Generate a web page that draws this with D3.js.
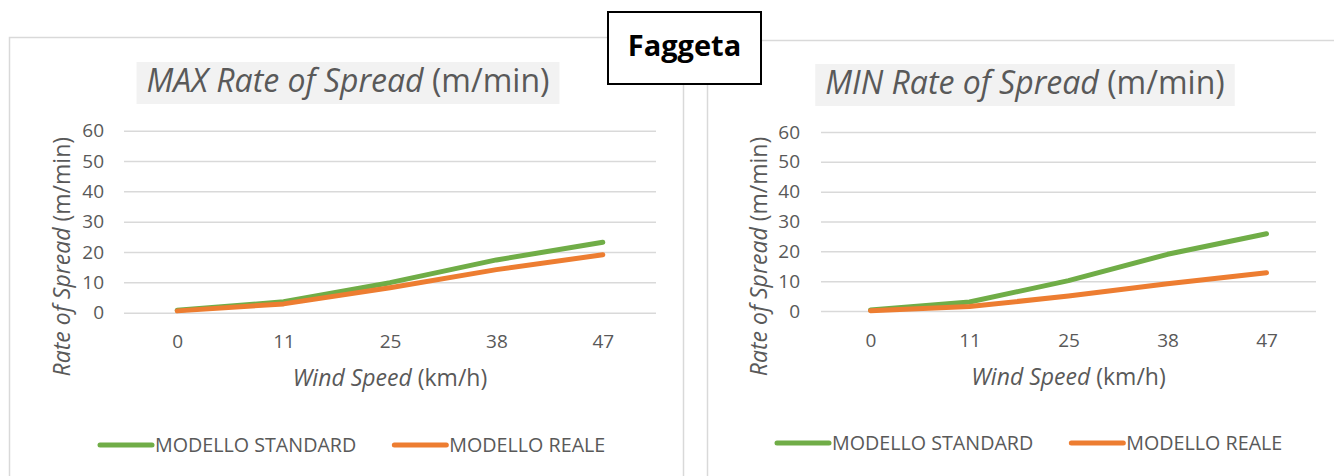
<!DOCTYPE html>
<html>
<head>
<meta charset="utf-8">
<script src="https://cdn.jsdelivr.net/npm/d3@7"></script>
<style>
  html, body { margin: 0; padding: 0; background: #fff; }
  svg { display: block; font-family: "Open Sans", "Noto Sans", sans-serif; }
</style>
</head>
<body>
<svg id="chart" width="1334" height="476"></svg>
<script>
// Wind speed classes (km/h) on the category axis
const windSpeeds = ["0", "11", "25", "38", "47"];
const yTicks = [0, 10, 20, 30, 40, 50, 60];
const seriesNames = ["MODELLO STANDARD", "MODELLO REALE"];
const seriesColors = ["#70ad47", "#ed7d31"];

// Rate of spread (m/min), maximum
const maxStandard = [0.8, 3.6, 9.9, 17.4, 23.2];
const maxReale = [0.6, 2.9, 8.2, 14.2, 19.1];
// Rate of spread (m/min), minimum
const minStandard = [0.3, 3.0, 10.2, 19.0, 25.9];
const minReale = [0.1, 1.5, 5.0, 9.1, 12.8];

const textColor = "#595959";
const gridColor = "#d9d9d9";

const svg = d3.select("#chart");
svg.append("rect").attr("width", 1334).attr("height", 476).attr("fill", "#fff");

const panels = [
  {
    label: "MAX", series: [maxStandard, maxReale],
    frame: { x: 9.5, y: 37.5, w: 674, h: 460 },
    plot: { x0: 124, x1: 656, y0: 312.7, y1: 130.7 },
    titleX: 348, titleY: 92,
    yTitleX: 62, yTickX: 104,
    xTickY: 348, xTitleY: 386,
    legendY: 445, legendX: 100
  },
  {
    label: "MIN", series: [minStandard, minReale],
    frame: { x: 707.5, y: 40.5, w: 700, h: 460 },
    plot: { x0: 821, x1: 1316, y0: 311, y1: 132 },
    titleX: 1025, titleY: 94,
    yTitleX: 759, yTickX: 800,
    xTickY: 347, xTitleY: 385,
    legendY: 443, legendX: 777
  }
];

panels.forEach(p => {
  const g = svg.append("g");

  // chart area border
  g.append("rect")
    .attr("x", p.frame.x).attr("y", p.frame.y)
    .attr("width", p.frame.w).attr("height", p.frame.h)
    .attr("fill", "#fff").attr("stroke", gridColor).attr("stroke-width", 1.5);

  const x = d3.scalePoint().domain(windSpeeds).range([p.plot.x0, p.plot.x1]).padding(0.5);
  const y = d3.scaleLinear().domain([0, 60]).range([p.plot.y0, p.plot.y1]);

  // horizontal gridlines + value labels
  const yAxis = g.append("g")
    .attr("transform", `translate(${p.plot.x0},0)`)
    .call(d3.axisLeft(y).tickValues(yTicks).tickSize(-(p.plot.x1 - p.plot.x0)).tickPadding(20));
  yAxis.select(".domain").remove();
  yAxis.selectAll(".tick line").attr("stroke", gridColor).attr("stroke-width", 1.5);
  yAxis.selectAll(".tick text")
    .attr("x", p.yTickX - p.plot.x0)
    .attr("fill", textColor)
    .style("font-size", "19px")
    .style("font-family", "'Open Sans', sans-serif");

  // category labels
  const xAxis = g.append("g")
    .attr("transform", `translate(0,${p.plot.y0})`)
    .call(d3.axisBottom(x).tickSize(0));
  xAxis.select(".domain").remove();
  xAxis.selectAll(".tick text")
    .attr("y", p.xTickY - p.plot.y0)
    .attr("dy", 0)
    .attr("fill", textColor)
    .style("font-size", "19px")
    .style("font-family", "'Open Sans', sans-serif");

  // series lines
  const line = d3.line().x((d, i) => x(windSpeeds[i])).y(d => y(d));
  p.series.forEach((vals, si) => {
    g.append("path")
      .datum(vals)
      .attr("d", line)
      .attr("fill", "none")
      .attr("stroke", seriesColors[si])
      .attr("stroke-width", 5)
      .attr("stroke-linecap", "round")
      .attr("stroke-linejoin", "round");
  });

  // chart title on a light grey band
  const title = g.append("text")
    .attr("x", p.titleX).attr("y", p.titleY)
    .attr("text-anchor", "middle")
    .attr("fill", textColor)
    .style("font-size", "32px");
  title.append("tspan").style("font-style", "italic").text(`${p.label} Rate of Spread`);
  title.append("tspan").text(" (m/min)");
  const tb = title.node().getBBox();
  g.insert("rect", () => title.node())
    .attr("x", tb.x - 10).attr("y", p.titleY - 30)
    .attr("width", tb.width + 20).attr("height", 42)
    .attr("fill", "#f2f2f2");

  // y axis title
  const yt = g.append("text")
    .attr("transform", `translate(${p.yTitleX},${(p.plot.y0 + p.plot.y1) / 2 + 35}) rotate(-90)`)
    .attr("text-anchor", "middle")
    .attr("dy", "0.35em")
    .attr("fill", textColor)
    .style("font-size", "23px");
  yt.append("tspan").style("font-style", "italic").text("Rate of Spread");
  yt.append("tspan").text(" (m/min)");

  // x axis title
  const xt = g.append("text")
    .attr("x", (p.plot.x0 + p.plot.x1) / 2)
    .attr("y", p.xTitleY)
    .attr("text-anchor", "middle")
    .attr("fill", textColor)
    .style("font-size", "23px");
  xt.append("tspan").style("font-style", "italic").text("Wind Speed");
  xt.append("tspan").text(" (km/h)");

  // legend
  let lx = p.legendX;
  seriesNames.forEach((name, si) => {
    g.append("line")
      .attr("x1", lx).attr("x2", lx + 52)
      .attr("y1", p.legendY).attr("y2", p.legendY)
      .attr("stroke", seriesColors[si]).attr("stroke-width", 5)
      .attr("stroke-linecap", "round");
    const t = g.append("text")
      .attr("x", lx + 55).attr("y", p.legendY)
      .attr("dy", "0.35em")
      .attr("fill", textColor)
      .style("font-size", "19.7px")
      .text(name);
    lx = lx + 55 + t.node().getComputedTextLength() + 38;
  });
});

// overall title box
const boxG = svg.append("g");
boxG.append("rect")
  .attr("x", 608).attr("y", 12)
  .attr("width", 153).attr("height", 72)
  .attr("fill", "#fff").attr("stroke", "#000").attr("stroke-width", 2);
boxG.append("text")
  .attr("x", 684.5).attr("y", 56)
  .attr("text-anchor", "middle")
  .attr("fill", "#000")
  .style("font-size", "29px")
  .style("font-weight", "bold")
  .text("Faggeta");
</script>
</body>
</html>
